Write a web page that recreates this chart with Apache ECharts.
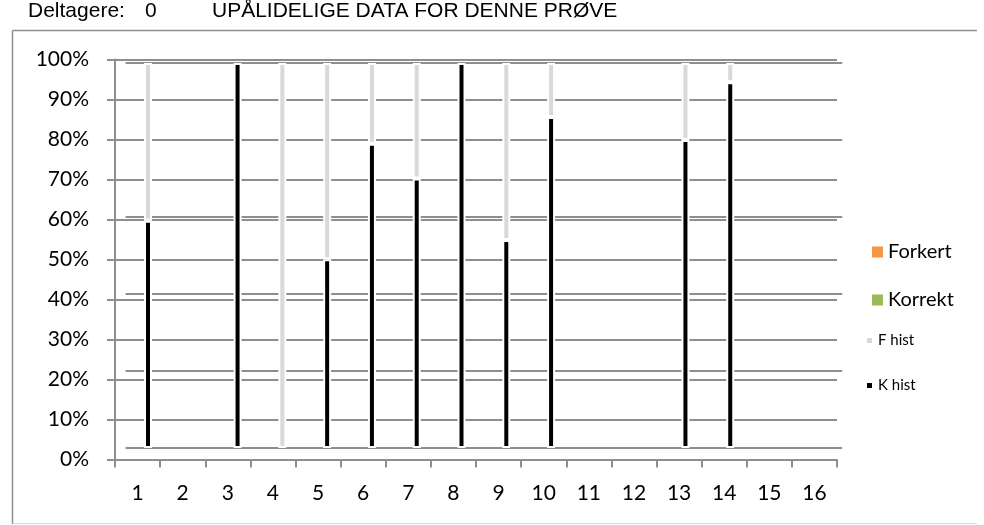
<!DOCTYPE html>
<html>
<head>
<meta charset="utf-8">
<script src="https://cdn.jsdelivr.net/npm/echarts@6/dist/echarts.min.js"></script>
<style>
  html, body { margin: 0; padding: 0; background: #fff; }
  #chart { width: 984px; height: 525px; }
</style>
</head>
<body>
<div id="chart"></div>
<script>
// data
var categories = ['1','2','3','4','5','6','7','8','9','10','11','12','13','14','15','16'];
var kHist = [59, null, 100, null, 49, 79, 70, 100, 54, 86, null, null, 80, 95, null, null];
var fHist = [41, null, null, 100, 51, 21, 30, null, 46, 14, null, null, 20, 5, null, null];
var forkert = [];
var korrekt = [];
var headerLabel = 'Deltagere:';
var deltagere = 0;
var headerTitle = 'UPÅLIDELIGE DATA FOR DENNE PRØVE';

var chart = echarts.init(document.getElementById('chart'));

var lineGray = '#8e8e8e';
var labelFont = 'Lato';
var headFont = '21px "Liberation Sans"';

var option = {
    animation: false,
    backgroundColor: '#fff',
    graphic: [
        // ramme
        { type: 'line', shape: { x1: 12.5, y1: 30.5, x2: 977, y2: 30.5 }, style: { stroke: '#8e8e8e', lineWidth: 1.5 } },
        { type: 'line', shape: { x1: 12.5, y1: 30.5, x2: 12.5, y2: 524 }, style: { stroke: '#8e8e8e', lineWidth: 1.5 } },
        { type: 'line', shape: { x1: 12.5, y1: 523.5, x2: 977, y2: 523.5 }, style: { stroke: '#d9d9d9', lineWidth: 1 } },
        { type: 'text', left: 28, top: 1, style: { text: headerLabel, font: headFont, fill: '#000' } },
        { type: 'text', left: 145, top: 1, style: { text: String(deltagere), font: headFont, fill: '#000' } },
        { type: 'text', left: 212, top: 1, style: { text: headerTitle, font: headFont, fill: '#000' } }
    ],
    legend: [
        { data: [{ name: 'Forkert', icon: 'rect' }], left: 872, top: 242, padding: 0, itemWidth: 11, itemHeight: 11,
          textStyle: { fontFamily: labelFont, fontSize: 20, color: '#000' } },
        { data: [{ name: 'Korrekt', icon: 'rect' }], left: 872, top: 290, padding: 0, itemWidth: 11, itemHeight: 11,
          textStyle: { fontFamily: labelFont, fontSize: 20, color: '#000' } },
        { data: [{ name: 'F hist', icon: 'rect' }], left: 865, top: 333, padding: 0, itemWidth: 7, itemHeight: 7,
          textStyle: { fontFamily: labelFont, fontSize: 15, color: '#000' } },
        { data: [{ name: 'K hist', icon: 'rect' }], left: 865, top: 378, padding: 0, itemWidth: 7, itemHeight: 7,
          textStyle: { fontFamily: labelFont, fontSize: 15, color: '#000' } }
    ],
    grid: [
        { left: 115, top: 59.5, width: 722, height: 400 },
        { left: 125.6, top: 63, width: 716.6, height: 385 }
    ],
    xAxis: [
        {
            type: 'category', gridIndex: 0, data: categories,
            axisLine: { show: true, lineStyle: { color: lineGray, width: 2 } },
            axisTick: { show: true, length: 8, lineStyle: { color: lineGray, width: 2 } },
            axisLabel: { color: '#000', fontFamily: labelFont, fontSize: 21, margin: 23 }
        },
        {
            type: 'category', gridIndex: 1, data: categories,
            axisLine: { show: false }, axisTick: { show: false }, axisLabel: { show: false }
        }
    ],
    yAxis: [
        {
            type: 'value', gridIndex: 0, min: 0, max: 100, interval: 10,
            axisLine: { show: true, lineStyle: { color: lineGray, width: 2 } },
            axisTick: { show: true, length: 8, lineStyle: { color: lineGray, width: 2 } },
            axisLabel: { formatter: '{value}%', color: '#000', fontFamily: labelFont, fontSize: 21, margin: 26 },
            splitLine: { lineStyle: { color: lineGray, width: 2 } }
        },
        {
            type: 'value', gridIndex: 1, min: 0, max: 100, interval: 20,
            axisLine: { show: false }, axisTick: { show: false }, axisLabel: { show: false },
            splitLine: { lineStyle: { color: lineGray, width: 2 } }
        }
    ],
    series: [
        { name: 'Forkert', type: 'bar', xAxisIndex: 0, yAxisIndex: 0, data: forkert, itemStyle: { color: '#f79646' } },
        { name: 'Korrekt', type: 'bar', xAxisIndex: 0, yAxisIndex: 0, data: korrekt, itemStyle: { color: '#9bbb59' } },
        {
            name: 'K hist', type: 'bar', xAxisIndex: 1, yAxisIndex: 1, stack: 'hist', barWidth: 8,
            data: kHist, itemStyle: { color: '#000', borderColor: '#fff', borderWidth: 2 }
        },
        {
            name: 'F hist', type: 'bar', xAxisIndex: 1, yAxisIndex: 1, stack: 'hist', barWidth: 8,
            data: fHist, itemStyle: { color: '#d9d9d9', borderColor: '#fff', borderWidth: 2 }
        }
    ]
};

chart.setOption(option);
</script>
</body>
</html>
